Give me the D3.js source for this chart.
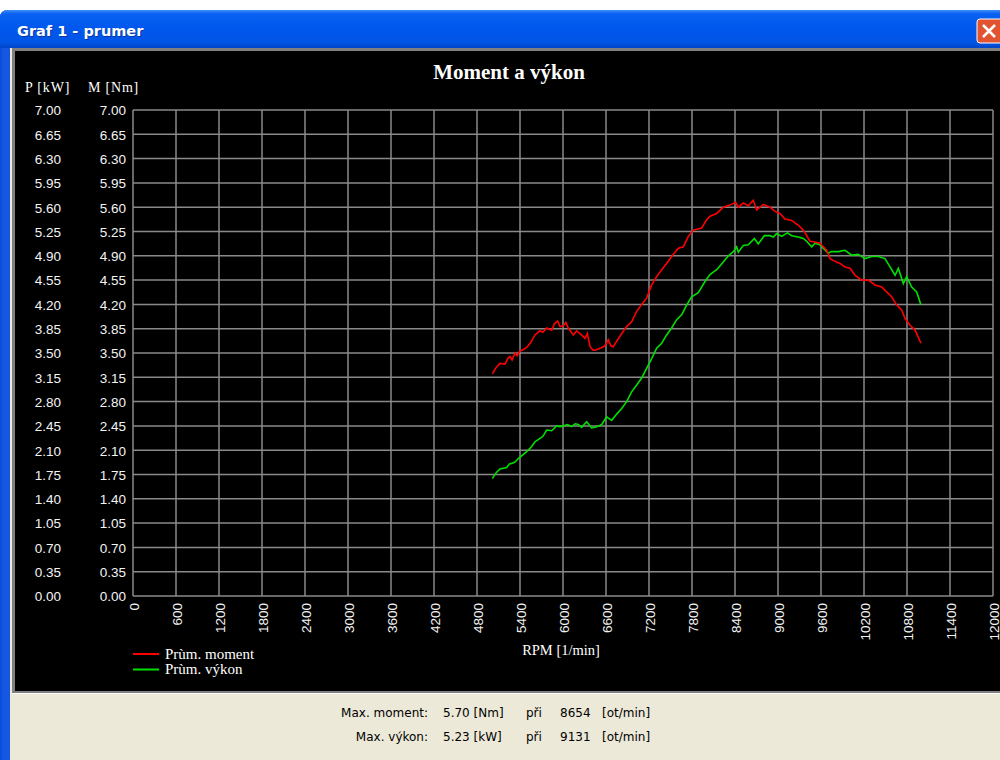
<!DOCTYPE html>
<html>
<head>
<meta charset="utf-8">
<script src="https://cdn.jsdelivr.net/npm/d3@7"></script>
<style>
  html, body { margin: 0; padding: 0; background: #ffffff; }
  svg { display: block; }
</style>
</head>
<body>
<svg id="chart" width="1000" height="760"></svg>
<script>
// Axis ticks
const xTicks = [0, 600, 1200, 1800, 2400, 3000, 3600, 4200, 4800, 5400, 6000, 6600,
                7200, 7800, 8400, 9000, 9600, 10200, 10800, 11400, 12000];
const yTicks = [0.00, 0.35, 0.70, 1.05, 1.40, 1.75, 2.10, 2.45, 2.80, 3.15, 3.50,
                3.85, 4.20, 4.55, 4.90, 5.25, 5.60, 5.95, 6.30, 6.65, 7.00];

// Average torque curve (M [Nm]) against engine speed
const momentRpm = [5014, 5060, 5121, 5191, 5230, 5260, 5290, 5330, 5360, 5400, 5450, 5493,
  5550, 5609, 5679, 5720, 5772, 5842, 5880, 5925, 5960, 6004, 6040, 6074, 6144, 6190, 6237,
  6307, 6340, 6377, 6420, 6446, 6500, 6540, 6580, 6632, 6670, 6702, 6749, 6819, 6888, 6958,
  7028, 7098, 7167, 7237, 7307, 7377, 7446, 7516, 7609, 7679, 7749, 7818, 7935, 8005, 8051,
  8144, 8237, 8330, 8409, 8446, 8516, 8586, 8654, 8702, 8795, 8888, 8958, 9028, 9098, 9191,
  9284, 9353, 9446, 9516, 9586, 9679, 9725, 9795, 9865, 9935, 10005, 10074, 10167, 10260,
  10353, 10446, 10516, 10586, 10656, 10726, 10772, 10842, 10912, 10995];
const momentNm = [3.20, 3.28, 3.35, 3.34, 3.42, 3.45, 3.40, 3.50, 3.46, 3.53, 3.55, 3.58,
  3.65, 3.76, 3.82, 3.80, 3.86, 3.83, 3.92, 3.96, 3.88, 3.89, 3.94, 3.86, 3.76, 3.82, 3.78,
  3.71, 3.78, 3.59, 3.54, 3.54, 3.56, 3.58, 3.60, 3.69, 3.60, 3.59, 3.67, 3.78, 3.88, 3.95,
  4.10, 4.20, 4.29, 4.48, 4.60, 4.70, 4.79, 4.89, 5.01, 5.03, 5.18, 5.27, 5.30, 5.42, 5.47,
  5.51, 5.60, 5.63, 5.67, 5.60, 5.66, 5.62, 5.70, 5.56, 5.64, 5.60, 5.54, 5.51, 5.43, 5.41,
  5.34, 5.27, 5.11, 5.10, 5.08, 4.98, 4.86, 4.82, 4.79, 4.74, 4.72, 4.62, 4.55, 4.55,
  4.48, 4.45, 4.38, 4.31, 4.19, 4.12, 4.00, 3.90, 3.83, 3.64];

// Average power curve (P [kW]) against engine speed
const powerRpm = [5014, 5070, 5121, 5214, 5250, 5284, 5330, 5377, 5493, 5560, 5609, 5679,
  5720, 5772, 5842, 5912, 5960, 6004, 6060, 6121, 6170, 6214, 6260, 6330, 6400, 6446, 6500,
  6540, 6609, 6679, 6749, 6819, 6888, 6958, 7028, 7098, 7167, 7237, 7307, 7377, 7446, 7516,
  7586, 7656, 7725, 7795, 7888, 7981, 8051, 8144, 8237, 8307, 8377, 8423, 8446, 8516, 8586,
  8670, 8725, 8809, 8888, 8935, 8981, 9051, 9131, 9191, 9284, 9353, 9400, 9470, 9516, 9586,
  9609, 9702, 9749, 9842, 9935, 10028, 10121, 10214, 10307, 10400, 10493, 10563, 10633,
  10679, 10749, 10795, 10865, 10935, 10995];
const powerKw = [1.69, 1.78, 1.83, 1.85, 1.90, 1.91, 1.93, 1.98, 2.08, 2.15, 2.22, 2.27,
  2.30, 2.39, 2.38, 2.45, 2.44, 2.45, 2.47, 2.44, 2.48, 2.47, 2.43, 2.51, 2.42, 2.43, 2.45,
  2.47, 2.58, 2.53, 2.62, 2.70, 2.80, 2.94, 3.04, 3.14, 3.28, 3.42, 3.57, 3.64, 3.76, 3.86,
  3.98, 4.05, 4.19, 4.31, 4.37, 4.53, 4.63, 4.70, 4.81, 4.90, 4.96, 5.03, 4.95, 5.05, 5.06,
  5.15, 5.07, 5.19, 5.19, 5.17, 5.22, 5.18, 5.23, 5.19, 5.17, 5.15, 5.11, 5.03, 5.08, 5.06,
  5.03, 4.94, 4.96, 4.96, 4.98, 4.91, 4.92, 4.86, 4.89, 4.89, 4.86, 4.74, 4.62,
  4.72, 4.50, 4.60, 4.45, 4.38, 4.19];

// Legend entries and summary of the maxima
const seriesNames = ["Prùm. moment", "Prùm. výkon"];
const seriesColors = ["#ff0000", "#00e000"];
const summaryLabels = ["Max. moment:", "Max. výkon:"];
const summaryValues = [5.70, 5.23];
const summaryUnits = ["[Nm]", "[kW]"];
const summaryRpm = [8654, 9131];

const svg = d3.select("#chart");
const fmt2 = d3.format(".2f");

// ---------- window chrome ----------
const defs = svg.append("defs");
const tg = defs.append("linearGradient").attr("id", "titleGrad")
  .attr("x1", 0).attr("y1", 0).attr("x2", 0).attr("y2", 1);
[["0%", "#3d8ffa"], ["10%", "#0a62f2"], ["45%", "#0058ee"], ["85%", "#0255e6"], ["100%", "#0046c8"]]
  .forEach(([o, c]) => tg.append("stop").attr("offset", o).attr("stop-color", c));

// outer blue frame with rounded top corners
svg.append("path")
  .attr("d", "M0,18 Q0,10 8,10 L1000,10 L1000,760 L0,760 Z")
  .attr("fill", "#0a4ede");
svg.append("path")
  .attr("d", "M0,18 Q0,10 8,10 L1000,10 L1000,48 L0,48 Z")
  .attr("fill", "url(#titleGrad)");
svg.append("rect").attr("x", 2).attr("y", 48).attr("width", 8).attr("height", 712)
  .attr("fill", "#1657e2");

const titleFont = "DejaVu Sans";
svg.append("text").attr("x", 18).attr("y", 37)
  .attr("font-family", titleFont).attr("font-weight", "bold").attr("font-size", 14.5)
  .attr("fill", "#0a2a80").attr("opacity", 0.7)
  .text("Graf 1 - prumer");
svg.append("text").attr("x", 17).attr("y", 36)
  .attr("font-family", titleFont).attr("font-weight", "bold").attr("font-size", 14.5)
  .attr("fill", "#ffffff").text("Graf 1 - prumer");

// close button
svg.append("rect").attr("x", 977).attr("y", 19).attr("width", 26).attr("height", 24)
  .attr("rx", 3).attr("fill", "#e2532f").attr("stroke", "#ffffff").attr("stroke-width", 1);
svg.append("path").attr("d", "M983,25 L995,37 M995,25 L983,37")
  .attr("stroke", "#ffffff").attr("stroke-width", 2.5);

// client area: black chart panel and beige status panel
svg.append("rect").attr("x", 10).attr("y", 48).attr("width", 990).attr("height", 712)
  .attr("fill", "#ece9d8");
svg.append("rect").attr("x", 12).attr("y", 48).attr("width", 988).attr("height", 645)
  .attr("fill", "#808080");
svg.append("rect").attr("x", 15).attr("y", 51).attr("width", 985).attr("height", 640)
  .attr("fill", "#000000");
svg.append("rect").attr("x", 12).attr("y", 693).attr("width", 988).attr("height", 1)
  .attr("fill", "#ffffff");

// ---------- chart ----------
const x = d3.scaleLinear().domain([0, 12000]).range([133, 993]);
const y = d3.scaleLinear().domain([0, 7]).range([596, 110]);

const gridColor = "#8a8a8a";
const grid = svg.append("g");
grid.selectAll(".vx").data(xTicks).enter().append("line")
  .attr("x1", d => x(d)).attr("x2", d => x(d))
  .attr("y1", y(0)).attr("y2", y(7))
  .attr("stroke", gridColor).attr("stroke-width", 1.5);
grid.selectAll(".hy").data(yTicks).enter().append("line")
  .attr("x1", x(0)).attr("x2", x(12000))
  .attr("y1", d => y(d)).attr("y2", d => y(d))
  .attr("stroke", gridColor).attr("stroke-width", 1.5);

const tickFont = "Liberation Sans, Arial, sans-serif";
const serif = "Liberation Serif, Times New Roman, serif";

// twin y tick columns (power and torque share the same scale)
const yAxisP = d3.axisLeft(y).tickValues(yTicks).tickFormat(fmt2).tickSize(0).tickPadding(0);
const yAxisM = d3.axisLeft(y).tickValues(yTicks).tickFormat(fmt2).tickSize(0).tickPadding(0);
function styleAxis(g) {
  g.select(".domain").remove();
  g.selectAll("text").attr("fill", "#f4f4f4").attr("font-family", tickFont)
    .attr("font-size", 13.5).attr("dy", "0.36em");
}
svg.append("g").attr("transform", "translate(61,0)").call(yAxisP).call(styleAxis);
svg.append("g").attr("transform", "translate(126,0)").call(yAxisM).call(styleAxis);

// x ticks, rotated
const xAxis = d3.axisBottom(x).tickValues(xTicks).tickFormat(d3.format("d")).tickSize(0).tickPadding(0);
const xg = svg.append("g").attr("transform", `translate(0,${y(0)})`).call(xAxis);
xg.select(".domain").remove();
xg.selectAll("text")
  .attr("fill", "#f4f4f4").attr("font-family", tickFont).attr("font-size", 13.5)
  .attr("text-anchor", "end").attr("dy", null).attr("y", 0)
  .attr("transform", "translate(5,7) rotate(-90)");

// titles
svg.append("text").attr("x", 509).attr("y", 79).attr("text-anchor", "middle")
  .attr("font-family", serif).attr("font-weight", "bold").attr("font-size", 21)
  .attr("fill", "#ffffff").text("Moment a výkon");
svg.append("text").attr("x", 25).attr("y", 92)
  .attr("font-family", serif).attr("font-size", 14).attr("letter-spacing", 0.8)
  .attr("fill", "#ffffff").text("P [kW]");
svg.append("text").attr("x", 88).attr("y", 92)
  .attr("font-family", serif).attr("font-size", 14).attr("letter-spacing", 0.8)
  .attr("fill", "#ffffff").text("M [Nm]");
svg.append("text").attr("x", 561).attr("y", 655).attr("text-anchor", "middle")
  .attr("font-family", serif).attr("font-size", 14.5)
  .attr("fill", "#ffffff").text("RPM [1/min]");

// curves
const line = d3.line().x(d => x(d[0])).y(d => y(d[1]));
const momentPts = momentRpm.map((r, i) => [r, momentNm[i]]);
const powerPts = powerRpm.map((r, i) => [r, powerKw[i]]);
svg.append("path").datum(powerPts).attr("d", line)
  .attr("fill", "none").attr("stroke", seriesColors[1]).attr("stroke-width", 1.6);
svg.append("path").datum(momentPts).attr("d", line)
  .attr("fill", "none").attr("stroke", seriesColors[0]).attr("stroke-width", 1.6);

// legend
const leg = svg.append("g");
seriesNames.forEach((name, i) => {
  const ly = 654 + i * 15.5;
  leg.append("line").attr("x1", 133).attr("x2", 159).attr("y1", ly).attr("y2", ly)
    .attr("stroke", seriesColors[i]).attr("stroke-width", 2);
  leg.append("text").attr("x", 165).attr("y", ly + 4.5)
    .attr("font-family", serif).attr("font-size", 15)
    .attr("fill", "#ffffff").text(name);
});

// summary of maxima
const sumFont = "DejaVu Sans, Verdana, sans-serif";
summaryLabels.forEach((lab, i) => {
  const sy = 717 + i * 24;
  const g = svg.append("g").attr("font-family", sumFont).attr("font-size", 12).attr("fill", "#000000");
  g.append("text").attr("x", 428).attr("y", sy).attr("text-anchor", "end").text(lab);
  g.append("text").attr("x", 443).attr("y", sy).text(`${fmt2(summaryValues[i])} ${summaryUnits[i]}`);
  g.append("text").attr("x", 526).attr("y", sy).text("při");
  g.append("text").attr("x", 560).attr("y", sy).text(summaryRpm[i]);
  g.append("text").attr("x", 602).attr("y", sy).text("[ot/min]");
});
</script>
</body>
</html>
